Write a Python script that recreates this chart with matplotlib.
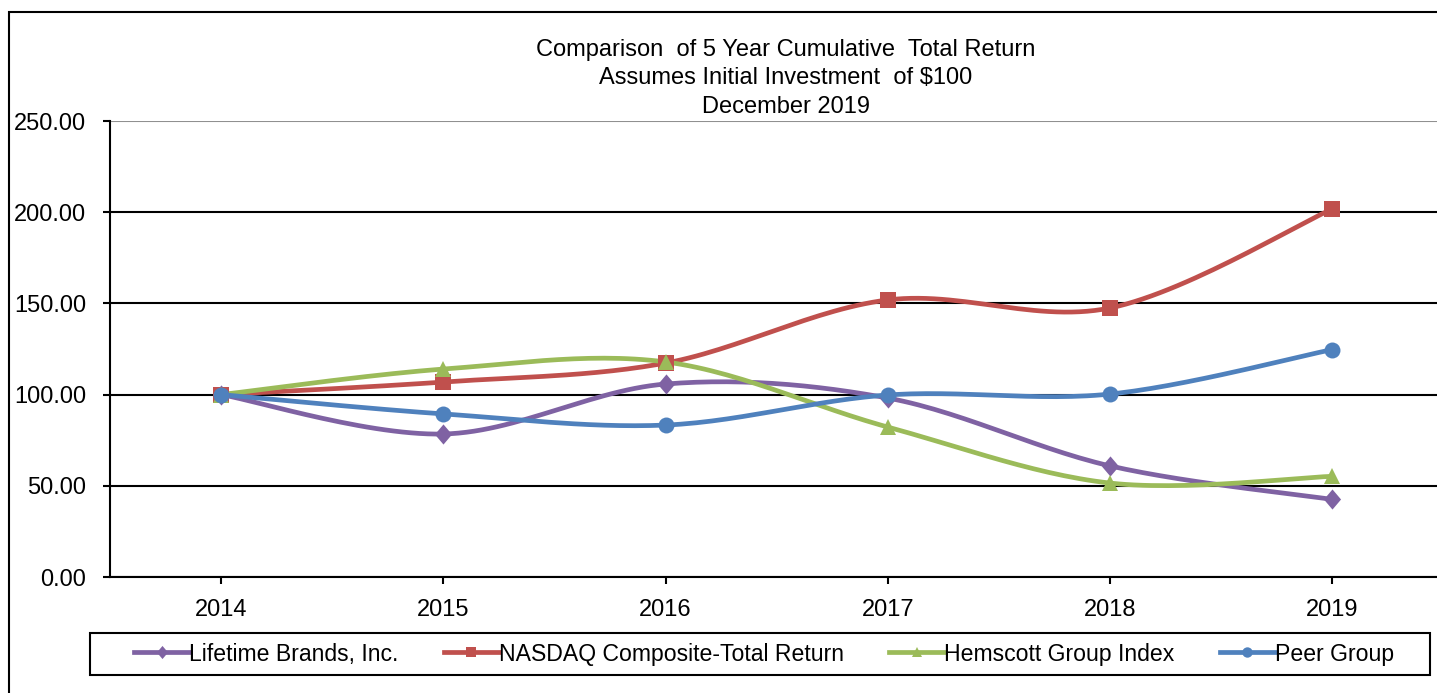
import numpy as np
import matplotlib.pyplot as plt
from matplotlib.patches import Rectangle

W, H = 1437, 693
DPI = 100
FONT = "Liberation Sans"
FONTSIZE_TICKS = 17
FONTSIZE_TITLE = 17
FONTSIZE_LEGEND = 16.6
LINEWIDTH = 3.4

years = ["2014", "2015", "2016", "2017", "2018", "2019"]
lifetime = [100.00, 78.4, 105.8, 98.1, 60.9, 42.5]
nasdaq = [100.00, 106.9, 117.3, 151.9, 147.5, 201.8]
hemscott = [100.00, 114.0, 117.9, 82.2, 51.5, 55.2]
peer = [100.00, 89.4, 83.3, 99.8, 100.3, 124.7]
series_names = ["Lifetime Brands, Inc.", "NASDAQ Composite-Total Return",
                "Hemscott Group Index", "Peer Group"]
title_lines = ["Comparison  of 5 Year Cumulative  Total Return",
               "Assumes Initial Investment  of $100",
               "December 2019"]
yticks = [0, 50, 100, 150, 200, 250]

DIAMOND = [(0, 1), (0.85, 0), (0, -1), (-0.85, 0), (0, 1)]
COLORS = ["#7F62A3", "#C0504D", "#9BBB59", "#4F81BD"]
MARKERS = [DIAMOND, "s", "^", "o"]
MSIZES = [14.5, 11.5, 11.5, 11.5]


def smooth(x, y, n=30):
    # excel style smoothed line: cubic bezier, control points at 1/6 of neighbours
    x, y = np.asarray(x, float), np.asarray(y, float)
    px = np.concatenate([[x[0]], x, [x[-1]]])
    py = np.concatenate([[y[0]], y, [y[-1]]])
    t = np.linspace(0, 1, n)[:, None]
    xs, ys = [], []
    for i in range(1, len(px) - 2):
        p0 = np.array([px[i], py[i]])
        p3 = np.array([px[i + 1], py[i + 1]])
        p1 = p0 + (np.array([px[i + 1], py[i + 1]]) - np.array([px[i - 1], py[i - 1]])) / 6
        p2 = p3 - (np.array([px[i + 2], py[i + 2]]) - p0) / 6
        b = ((1 - t) ** 3) * p0 + 3 * ((1 - t) ** 2) * t * p1 + 3 * (1 - t) * t ** 2 * p2 + t ** 3 * p3
        xs.append(b[:, 0])
        ys.append(b[:, 1])
    return np.concatenate(xs), np.concatenate(ys)


plt.rcParams["font.family"] = [FONT, "DejaVu Sans"]
fig = plt.figure(figsize=(W / DPI, H / DPI), dpi=DPI)
ax = fig.add_axes([110 / W, 1 - 577 / H, (1443.5 - 110) / W, (577 - 121) / H])

x = np.arange(len(years))
handles = []
for vals, c, m, ms, name in zip([lifetime, nasdaq, hemscott, peer], COLORS,
                                MARKERS, MSIZES, series_names):
    sx, sy = smooth(x, vals)
    ax.plot(sx, sy, c=c, lw=LINEWIDTH, solid_capstyle="round", zorder=3)
    ax.plot(x, vals, ls="none", marker=m, ms=ms, c=c, mew=0, zorder=4)
    h, = ax.plot([], [], c=c, lw=LINEWIDTH, marker=m, ms=ms * 0.65, mew=0, label=name)
    handles.append(h)

ax.set_xlim(-0.5, 5.5)
ax.set_ylim(0, 250)
ax.set_xticks(x)
ax.set_xticklabels(years)
ax.set_yticks(yticks)
ax.set_yticklabels([f"{v:.2f}" for v in yticks])
ax.tick_params(axis="both", labelsize=FONTSIZE_TICKS, direction="out",
               length=5, width=1.5, color="black")
ax.tick_params(axis="y", pad=12)
ax.tick_params(axis="x", pad=11)
ax.yaxis.grid(True, color="black", lw=1.5)
ax.get_ygridlines()[-1].set_color("#909090")
ax.set_axisbelow(True)
for s in ["top", "right"]:
    ax.spines[s].set_visible(False)
for s in ["left", "bottom"]:
    ax.spines[s].set_linewidth(1.5)

for i, line in enumerate(title_lines):
    fig.text(786 / W, 1 - (50 + 28.5 * i) / H, line, ha="center", va="center",
             fontsize=FONTSIZE_TITLE)

# outer chart frame
fig.add_artist(Rectangle((8.5 / W, -0.1), 1.2, 1.1 - 12 / H, transform=fig.transFigure,
                         fill=False, ec="black", lw=1.5, clip_on=False))
# legend box
fig.add_artist(Rectangle((90 / W, 1 - 675 / H), (1430 - 90) / W, 42 / H,
                         transform=fig.transFigure, fill=False, ec="black", lw=1.5))
fig.legend(handles=handles, loc="center", bbox_to_anchor=(764 / W, 1 - 654 / H),
           ncol=4, frameon=False, fontsize=FONTSIZE_LEGEND, handlelength=2.4,
           handletextpad=0.0, columnspacing=1.95, borderpad=0)

fig.savefig("out.png", dpi=DPI)
